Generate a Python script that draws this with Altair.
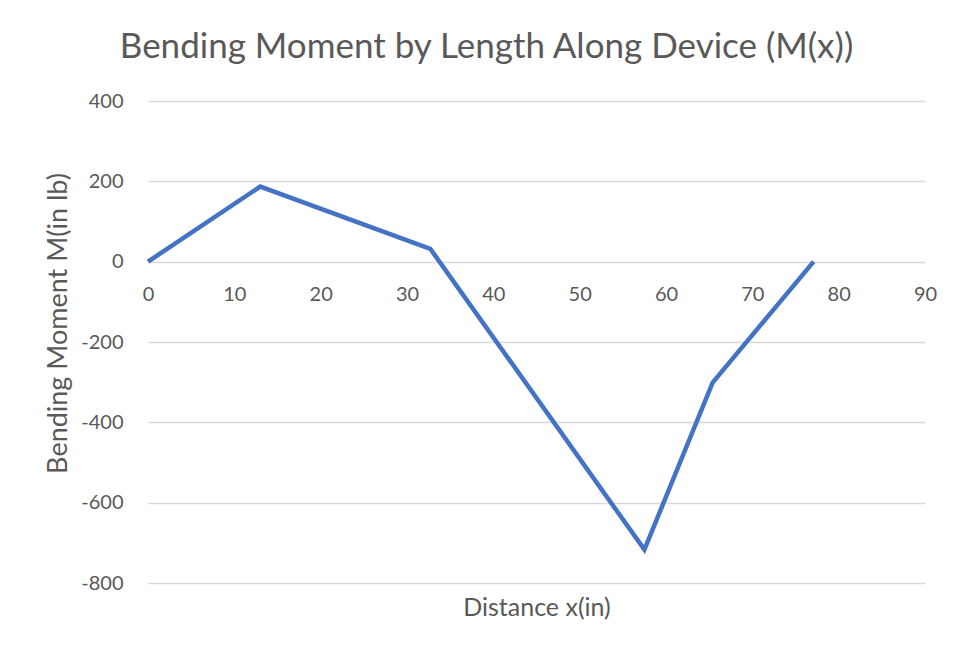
import altair as alt
import pandas as pd

x_in = [0, 13, 32.7, 57.5, 65.4, 77.1]
moment = [0, 187, 32, -717, -301, 0]
x_ticks = list(range(0, 91, 10))
y_ticks = list(range(-800, 401, 200))

df = pd.DataFrame({"x": x_in, "M": moment})

GRAY = "#595959"
FONT = "Lato"

chart = alt.Chart(df).mark_line(color="#4472C4", strokeWidth=4.5, strokeJoin="miter").encode(
    x=alt.X("x:Q",
            scale=alt.Scale(domain=[0, 90], nice=False, zero=False),
            axis=alt.Axis(values=x_ticks, title="Distance x(in)", labelExpr="datum.value",
                          grid=False, domain=False, ticks=False, offset=-321, labelFlush=False,
                          labelPadding=22, labelFontSize=20, labelColor=GRAY, labelFont=FONT,
                          titleFontSize=25, titleColor=GRAY, titleFont=FONT, titleFontWeight="normal",
                          titleY=345, titleBaseline="middle")),
    y=alt.Y("M:Q",
            scale=alt.Scale(domain=[-800, 400], nice=False),
            axis=alt.Axis(values=y_ticks, title="Bending Moment  M(in lb)", labelExpr="datum.value",
                          grid=True, gridColor="#d9d9d9", gridWidth=1.3, domain=False, ticks=False,
                          labelPadding=25, labelFontSize=20, labelColor=GRAY, labelFont=FONT,
                          titleFontSize=27, titleColor=GRAY, titleFont=FONT, titleFontWeight="normal",
                          titleX=-90, titleY=222, titleBaseline="middle")),
).properties(
    width=777, height=482,
    autosize=alt.AutoSizeParams(type="none"),
    padding={"left": 140, "top": 93, "right": 15, "bottom": 45},
    title=alt.TitleParams("Bending Moment by Length Along Device (M(x))", fontSize=35,
                          font=FONT, fontWeight="normal", color=GRAY, anchor="middle",
                          dx=-50, offset=26),
).configure(background="white").configure_view(stroke=None)

chart.save("out.html", embed_options={"renderer": "svg", "actions": False})
